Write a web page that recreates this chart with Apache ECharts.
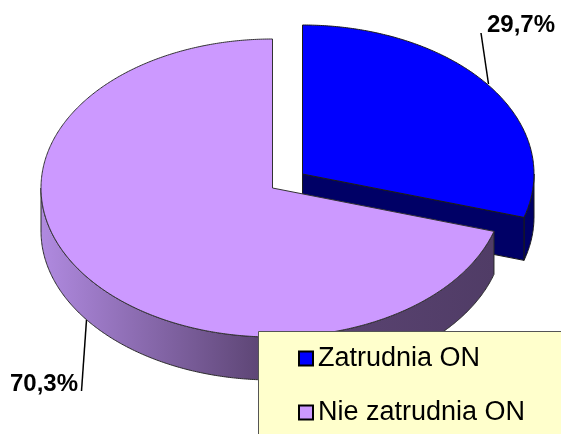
<!DOCTYPE html>
<html><head><meta charset="utf-8">
<style>html,body{margin:0;padding:0;background:#fff}#c{width:561px;height:434px}</style>
<script src="https://cdn.jsdelivr.net/npm/echarts@6/dist/echarts.min.js"></script>
</head><body><div id="c"></div>
<script>
const categories = ['Zatrudnia ON', 'Nie zatrudnia ON'];
const shares = [29.7, 70.3];
const topColors = ['#0000FF', '#CC99FF'];
const labelTexts = ['29,7%', '70,3%'];

const RX = 231.5, RY = 149, DEPTH = 43;
const centers = [[302.5, 174], [272.5, 188]];
const leaders = [[[481, 33], [488.5, 84]], [[86.5, 320], [81.5, 391]]];
const labelAnchors = [[521, 25.5], [44, 384]];

function pt(c, deg, dy) {
  const t = deg * Math.PI / 180;
  return [c[0] + RX * Math.sin(t), c[1] - RY * Math.cos(t) + (dy || 0)];
}
function arc(c, a, b, dy) {
  const n = Math.max(2, Math.ceil(Math.abs(b - a) * 2)), out = [];
  for (let i = 0; i <= n; i++) out.push(pt(c, a + (b - a) * i / n, dy));
  return out;
}
function wall(c, a, b) {
  return arc(c, a, b, 0).concat(arc(c, b, a, DEPTH));
}
const stroke = { stroke: '#1a1a1a', lineWidth: 1 };
const poly = (points, fill, extra) => ({
  type: 'polygon', shape: { points }, style: Object.assign({ fill }, stroke, extra || {})
});
const leader = i => ({
  type: 'polyline', shape: { points: leaders[i] },
  style: { stroke: '#000', lineWidth: 1.5, fill: null }
});
const label = i => ({
  type: 'text', x: labelAnchors[i][0], y: labelAnchors[i][1],
  style: { text: labelTexts[i], fill: '#000', align: 'center', verticalAlign: 'middle',
           font: 'bold 24px "Liberation Sans", Arial, sans-serif' }
});

function renderBlue(params, api) {
  const c = centers[0], end = shares[0] / 100 * 360;
  return { type: 'group', children: [
    leader(0),
    poly(wall(c, 90, end), '#000066'),
    poly([c, pt(c, end), pt(c, end, DEPTH), [c[0], c[1] + DEPTH]], '#000066'),
    poly([c].concat(arc(c, 0, api.value(0) / 100 * 360, 0)), topColors[0]),
    label(0)
  ]};
}
function renderLilac(params, api) {
  const c = centers[1], start = shares[0] / 100 * 360;
  const sideFill = new echarts.graphic.LinearGradient(41, 0, 494, 0, [
    { offset: 0, color: '#B08AE0' },
    { offset: 0.48, color: '#5E4676' },
    { offset: 1, color: '#503C66' }
  ], true);
  return { type: 'group', children: [
    leader(1),
    poly(wall(c, start, 270), sideFill, { stroke: '#2a2a2a' }),
    poly([c].concat(arc(c, start, start + api.value(0) / 100 * 360, 0)), topColors[1], { stroke: '#333' }),
    label(1)
  ]};
}

const chart = echarts.init(document.getElementById('c'), null, { renderer: 'canvas' });
chart.setOption({
  animation: false,
  backgroundColor: '#fff',
  legend: {
    orient: 'vertical', left: 293, top: 340, z: 10,
    icon: 'rect', itemWidth: 14, itemHeight: 14, itemGap: 27, selectedMode: false,
    itemStyle: { borderColor: '#000', borderWidth: 2 },
    textStyle: { fontFamily: '"Liberation Sans", Arial, sans-serif', fontSize: 27, color: '#000' },
    data: categories
  },
  graphic: [{
    type: 'rect', z: 8, zlevel: 0,
    shape: { x: 258.5, y: 331.5, width: 303, height: 103 },
    style: { fill: '#FFFFCC', stroke: '#555', lineWidth: 1 }
  }],
  series: [
    { type: 'custom', name: categories[0], coordinateSystem: 'none', z: 2,
      itemStyle: { color: topColors[0] }, renderItem: renderBlue, data: [[shares[0]]], silent: true },
    { type: 'custom', name: categories[1], coordinateSystem: 'none', z: 3,
      itemStyle: { color: topColors[1] }, renderItem: renderLilac, data: [[shares[1]]], silent: true }
  ]
});
</script></body></html>
